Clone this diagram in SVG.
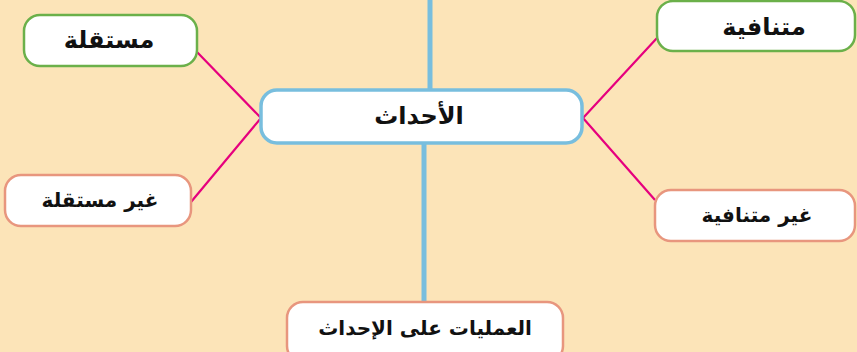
<svg xmlns="http://www.w3.org/2000/svg" width="857" height="352" viewBox="0 0 857 352">
<style>
.bg{fill:#FCE4B8}
.box{fill:#fff;stroke-width:2.5}
.g{stroke:#6BB04A}
.s{stroke:#E8967E}
.b{stroke:#78BEDE;stroke-width:3.5}
.lbl{font-family:"DejaVu Sans",sans-serif;font-weight:bold;fill:#111;text-anchor:middle;dominant-baseline:central}
.pink{stroke:#E6007E;stroke-width:2.2;fill:none}
.blue{stroke:#78BEDE;stroke-width:5;fill:none}
</style>
<rect class="bg" x="0" y="0" width="857" height="352"/>
<g id="connectors">
<line class="blue" x1="430" y1="0" x2="430" y2="90"/>
<line class="blue" x1="424" y1="143" x2="424" y2="302"/>
<polyline class="pink" points="197,52 261,118 191,202"/>
<polyline class="pink" points="657,38 583,118 655,200"/>
</g>
<g id="n-mustaqilla">
<rect class="box g" x="24" y="15" width="173" height="51" rx="16"/>
<text class="lbl" x="109" y="40" font-size="24">مستقلة</text>
</g>
<g id="n-mutanafiya">
<rect class="box g" x="657" y="1" width="198" height="50" rx="16"/>
<text class="lbl" x="764" y="27" font-size="24">متنافية</text>
</g>
<g id="n-ahdath">
<rect class="box b" x="261" y="90" width="321" height="53" rx="16"/>
<text class="lbl" x="419" y="116" font-size="24">الأحداث</text>
</g>
<g id="n-ghayr-mustaqilla">
<rect class="box s" x="5" y="175" width="186" height="51" rx="16"/>
<text class="lbl" x="100" y="200" font-size="20">غير مستقلة</text>
</g>
<g id="n-ghayr-mutanafiya">
<rect class="box s" x="655" y="190" width="200" height="51" rx="16"/>
<text class="lbl" x="757" y="215" font-size="20">غير متنافية</text>
</g>
<g id="n-amaliyat">
<rect class="box s" x="287" y="302" width="276" height="60" rx="16"/>
<text class="lbl" x="425" y="328" font-size="20">العمليات على الإحداث</text>
</g>
</svg>
